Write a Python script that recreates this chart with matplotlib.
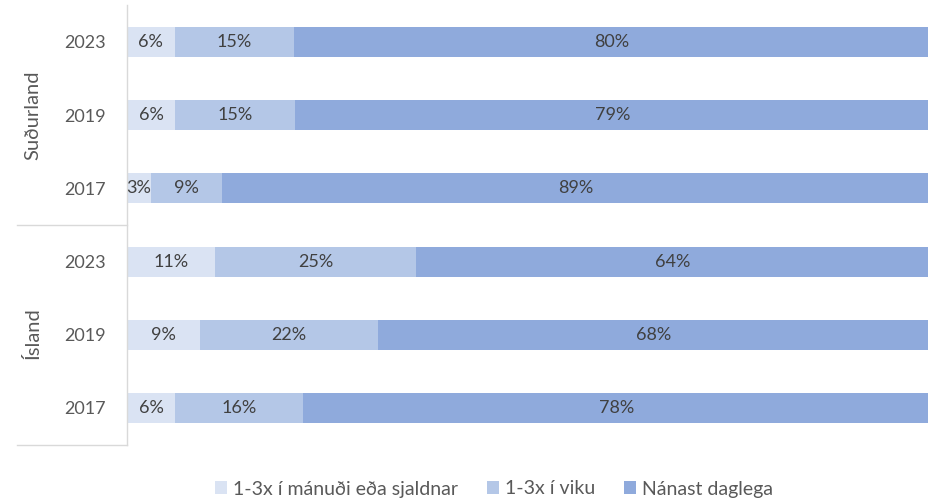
import matplotlib
matplotlib.use("Agg")
import matplotlib.pyplot as plt
from matplotlib.lines import Line2D

# Data (top to bottom)
groups = ["Suðurland", "Ísland"]
years = ["2023", "2019", "2017", "2023", "2019", "2017"]
series_names = ["1-3x í mánuði eða sjaldnar", "1-3x í viku", "Nánast daglega"]
monthly = [6, 6, 3, 11, 9, 6]
weekly = [15, 15, 9, 25, 22, 16]
daily = [80, 79, 89, 64, 68, 78]

colors = ["#dae3f3", "#b4c7e7", "#8faadc"]
text_color = "#595959"
plt.rcParams['font.family'] = ['Lato', 'DejaVu Sans']

W, H = 929, 501
fig = plt.figure(figsize=(W / 100, H / 100), dpi=100)
ax = fig.add_axes([127 / W, (H - 444.6) / H, 1 - 127 / W, (444.6 - 5.4) / H])

ys = list(range(len(years)))
series = [monthly, weekly, daily]
totals = [a + b + c for a, b, c in zip(monthly, weekly, daily)]
left = [0.0] * len(years)
for vals, col, name in zip(series, colors, series_names):
    widths = [v / t * 100 for v, t in zip(vals, totals)]
    ax.barh(ys, widths, left=left, height=0.41, color=col, label=name, edgecolor='none')
    for y, v, w, l in zip(ys, vals, widths, left):
        ax.text(l + w / 2, y, f"{v}%", ha='center', va='center', fontsize=13, color="#404040")
    left = [a + b for a, b in zip(left, widths)]

ax.set_xlim(0, 100)
ax.set_ylim(len(years) - 0.5, -0.5)
ax.set_xticks([])
ax.set_yticks(ys)
ax.set_yticklabels(years, fontsize=13, color=text_color)
ax.tick_params(axis='y', length=0, pad=15)
for s in ["top", "right", "bottom"]:
    ax.spines[s].set_visible(False)
ax.spines["left"].set_color("#d9d9d9")
ax.spines["left"].set_linewidth(1)

# group separators
line_col = "#d9d9d9"
for yp in [225, 444.6]:
    fig.add_artist(Line2D([17 / W, 127 / W], [(H - yp) / H, (H - yp) / H], color=line_col, lw=1))

# group labels
fig.text(33 / W, (H - 115) / H, groups[0], rotation=90, ha='center', va='center', fontsize=14.5, color=text_color)
fig.text(33 / W, (H - 333) / H, groups[1], rotation=90, ha='center', va='center', fontsize=14.5, color=text_color)

leg = fig.legend(loc='center', bbox_to_anchor=(494 / W, (H - 489) / H), ncol=3, frameon=False,
                 fontsize=14, handlelength=0.6, handleheight=0.6, handletextpad=0.3, columnspacing=1.5)
for t in leg.get_texts():
    t.set_color(text_color)

fig.savefig("out.png", dpi=100)
